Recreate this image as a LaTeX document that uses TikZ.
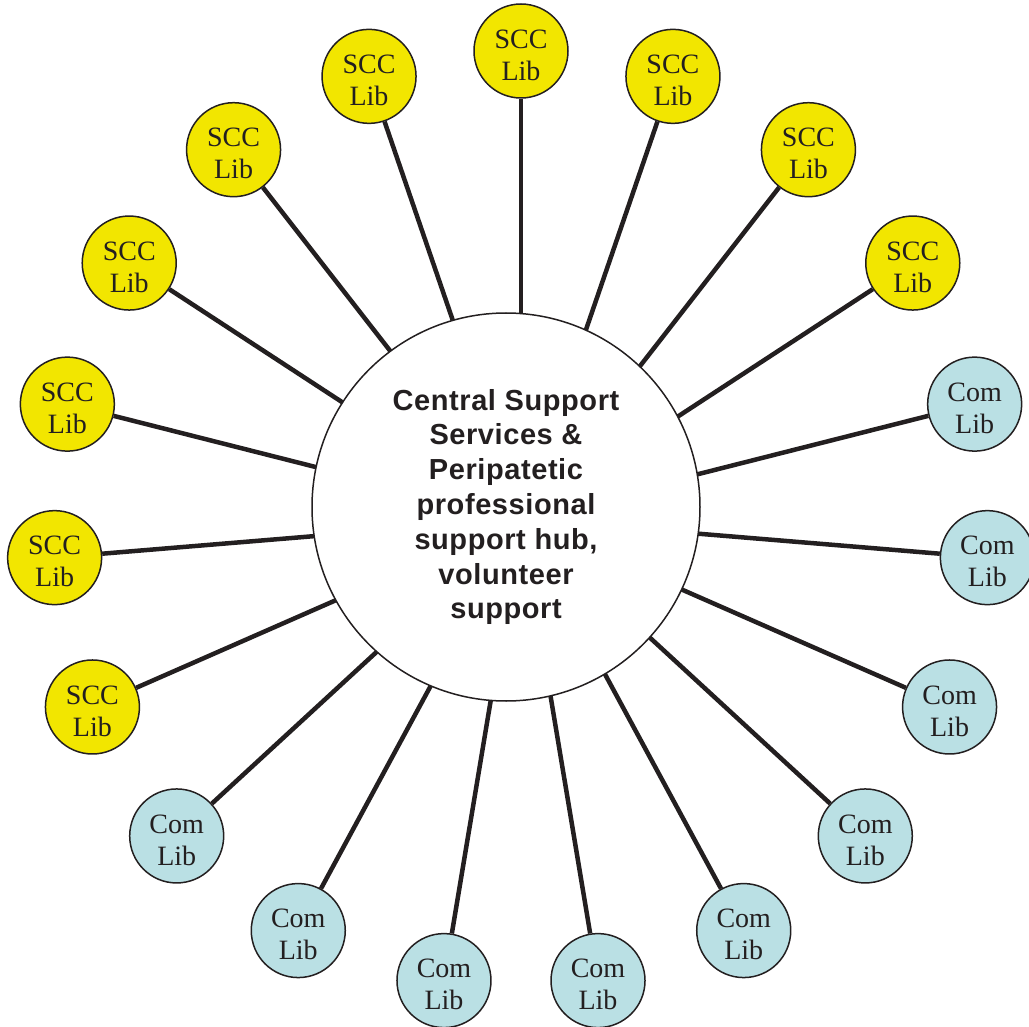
\documentclass[tikz,border=0pt]{standalone}
\usepackage{fontspec}
\setmainfont{Liberation Serif}
\newfontfamily\hubfont[LetterSpace=2]{Liberation Sans}
\usetikzlibrary{backgrounds,calc}
\definecolor{sccyellow}{RGB}{242,230,0}
\definecolor{comblue}{RGB}{186,224,228}
\definecolor{ink}{RGB}{35,31,32}
\begin{document}
\begin{tikzpicture}[x=1pt,y=-1pt,
  sat/.style={circle,draw=ink,line width=1.5pt,minimum size=94pt,inner sep=0pt},
  sattext/.style={font=\fontsize{28}{32}\selectfont,text=ink,align=center,inner sep=0pt,yshift=-4pt},
  scc/.style={sat,fill=sccyellow},
  com/.style={sat,fill=comblue},
  hub/.style={circle,draw=ink,line width=1.5pt,fill=white,minimum size=388pt,inner sep=0pt,
    align=center,font=\hubfont\bfseries\fontsize{29}{34.8}\selectfont,text=ink},
  spoke/.style={draw=ink,line width=4.5pt}]
\useasboundingbox (0,0) rectangle (1029,1027);
\coordinate (ring) at (521,519);
\node[hub] (hub) at (506,507) {Central Support\\Services \&\\Peripatetic\\professional\\support hub,\\volunteer\\support};
\foreach \k/\t/\w in {0/scc/SCC,1/scc/SCC,2/scc/SCC,3/scc/SCC,4/com/Com,5/com/Com,6/com/Com,
  7/com/Com,8/com/Com,9/com/Com,10/com/Com,11/com/Com,12/com/Com,13/scc/SCC,14/scc/SCC,
  15/scc/SCC,16/scc/SCC,17/scc/SCC,18/scc/SCC}{
  \node[\t,label={[sattext]center:\w\\Lib}] (s\k) at ($(ring)+({-90+\k*360/19}:468)$) {};
}
\begin{pgfonlayer}{background}
\foreach \k in {0,...,18}{
  \draw[spoke] (s\k) -- (ring);
}
\end{pgfonlayer}
\end{tikzpicture}
\end{document}
